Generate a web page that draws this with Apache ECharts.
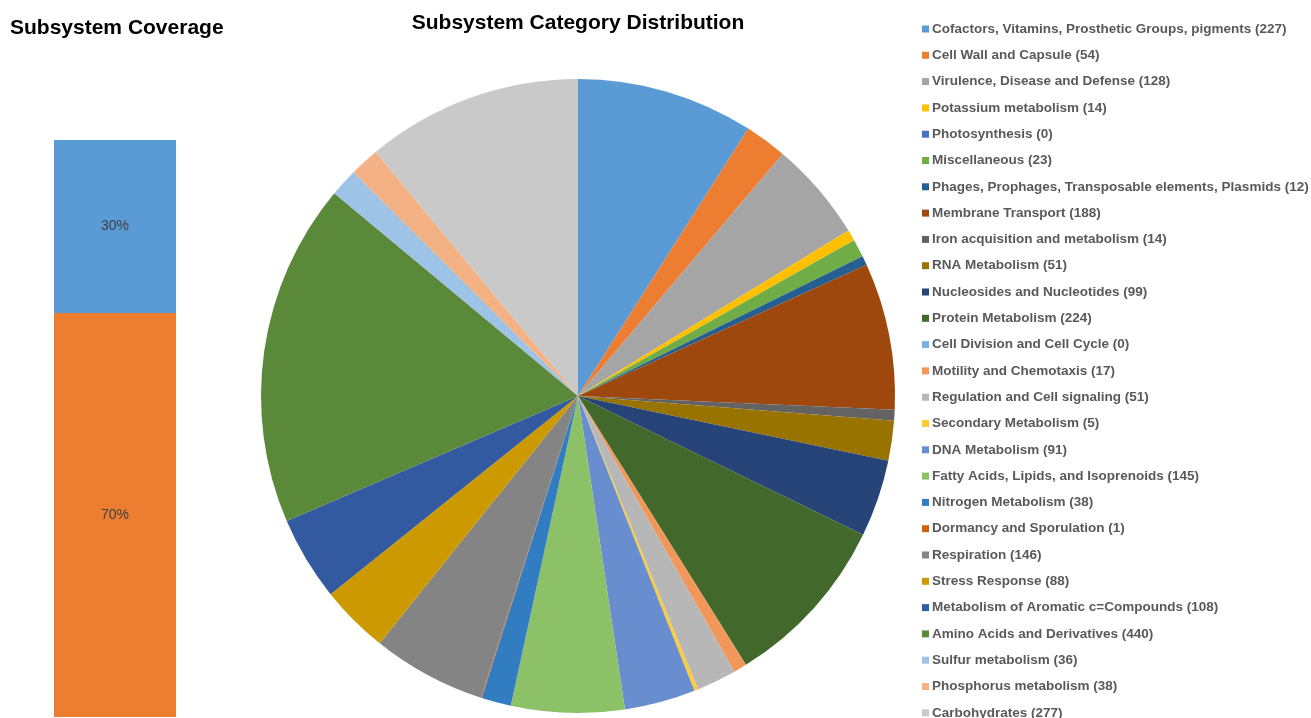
<!DOCTYPE html>
<html><head><meta charset="utf-8">
<script src="https://cdn.jsdelivr.net/npm/echarts@6/dist/echarts.min.js"></script>
<style>html,body{margin:0;padding:0;background:#fff}#c{width:1311px;height:718px}</style>
</head><body><div id="c"></div>
<script>
const categories = [
 "Cofactors, Vitamins, Prosthetic Groups, pigments","Cell Wall and Capsule","Virulence, Disease and Defense","Potassium metabolism","Photosynthesis","Miscellaneous","Phages, Prophages, Transposable elements, Plasmids","Membrane Transport","Iron acquisition and metabolism","RNA Metabolism","Nucleosides and Nucleotides","Protein Metabolism","Cell Division and Cell Cycle","Motility and Chemotaxis","Regulation and Cell signaling","Secondary Metabolism","DNA Metabolism","Fatty Acids, Lipids, and Isoprenoids","Nitrogen Metabolism","Dormancy and Sporulation","Respiration","Stress Response","Metabolism of Aromatic c=Compounds","Amino Acids and Derivatives","Sulfur metabolism","Phosphorus metabolism","Carbohydrates"];
const counts = [227,54,128,14,0,23,12,188,14,51,99,224,0,17,51,5,91,145,38,1,146,88,108,440,36,38,277];
const sliceColors = ["#5B9BD5","#ED7D31","#A5A5A5","#FFC000","#4472C4","#70AD47","#255E91","#9E480E","#636363","#997300","#264478","#43682B","#7CAFDD","#F1975A","#B7B7B7","#FFCD33","#698ED0","#8CC168","#327DC2","#D26012","#848484","#CC9A00","#335AA1","#5A8A39","#9DC3E6","#F4B183","#C9C9C9"];
const coverageNames = ["In Subsystem","Not in Subsystem"];
const coverageValues = [30,70];
const coverageColors = ["#5B9BD5","#ED7D31"];

const chart = echarts.init(document.getElementById('c'), null, {renderer:'canvas'});
const pieData = categories.map((n,i)=>({name: n + " (" + counts[i] + ")", value: counts[i], itemStyle:{color: sliceColors[i]}}));
chart.setOption({
  animation:false,
  title:[
    {text:"Subsystem Coverage", left:5, top:13, textStyle:{fontFamily:"Liberation Sans, Arial", fontWeight:"bold", fontSize:21, color:"#000"}},
    {text:"Subsystem Category Distribution", left:573, textAlign:"center", top:8, textStyle:{fontFamily:"Liberation Sans, Arial", fontWeight:"bold", fontSize:21, color:"#000"}}
  ],
  legend:{
    orient:"vertical", left:917, top:16, height:800, icon:"rect", itemWidth:7, itemHeight:7, itemGap:10.3,
    selectedMode:false,
    textStyle:{fontFamily:"Liberation Sans, Arial", fontWeight:"bold", fontSize:13.5, color:"#595959", lineHeight:16, padding:[0,0,0,-2]},
    data: pieData.map(d=>d.name)
  },
  grid:{left:54, width:122, top:140, bottom:1},
  xAxis:{type:"category", data:["Coverage"], show:false},
  yAxis:{type:"value", min:0, max:100, show:false},
  series:[
    {type:"bar", name:coverageNames[1], stack:"cov", barWidth:"100%", data:[coverageValues[1]], itemStyle:{color:coverageColors[1]},
     label:{show:true, position:"inside", formatter:"{c}%", color:"#404040", fontFamily:"Liberation Sans, Arial", fontSize:14}},
    {type:"bar", name:coverageNames[0], stack:"cov", barWidth:"100%", data:[coverageValues[0]], itemStyle:{color:coverageColors[0]},
     label:{show:true, position:"inside", formatter:"{c}%", color:"#404040", fontFamily:"Liberation Sans, Arial", fontSize:14}},
    {type:"pie", center:[578,396], radius:[0,317], startAngle:90, clockwise:true, minAngle:0,
     itemStyle:{borderWidth:0},
     label:{show:false}, labelLine:{show:false}, emphasis:{disabled:true}, data:pieData}
  ]
});
</script></body></html>
